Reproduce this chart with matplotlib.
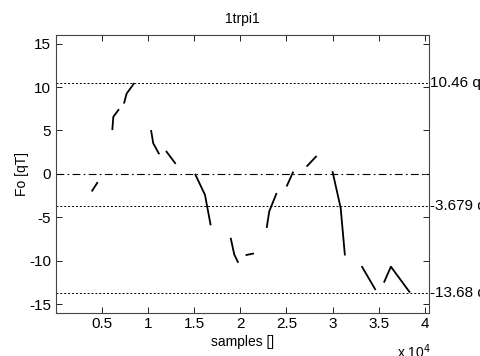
import matplotlib
matplotlib.use("Agg")
import matplotlib.pyplot as plt
import matplotlib.transforms as mtransforms

plt.rcParams['font.family'] = ['Liberation Sans', 'DejaVu Sans']

title = "1trpi1"
xlabel = "samples []"
ylabel = "Fo [qT]"

# data segments (samples, qT)
seg_x = [
    [3920, 4570],
    [6150, 6260, 6870],
    [7410, 7700, 8530],
    [10340, 10580, 11230],
    [11960, 13010],
    [15100, 16180, 16800],
    [18960, 19350, 19780],
    [20580, 21480],
    [22860, 23140, 23940],
    [25020, 25740],
    [27180, 28270],
    [29980, 30870, 31330],
    [33140, 34650],
    [35550, 36310, 38370],
]
seg_y = [
    [-2.03, -0.95],
    [5.05, 6.57, 7.45],
    [8.1, 9.25, 10.46],
    [5.05, 3.52, 2.26],
    [2.64, 1.15],
    [0.0, -2.41, -5.93],
    [-7.37, -9.29, -10.24],
    [-9.37, -9.17],
    [-6.23, -4.32, -2.21],
    [-1.45, 0.26],
    [0.84, 2.06],
    [0.3, -3.93, -9.40],
    [-10.63, -13.38],
    [-12.53, -10.70, -13.68],
]

ref_levels = [10.46, -3.679, -13.68]
ref_labels = ["10.46 qT", "-3.679 qT", "-13.68 qT"]
zero_level = 0.0

xticks = [5000, 10000, 15000, 20000, 25000, 30000, 35000, 40000]
xticklabels = ["0.5", "1", "1.5", "2", "2.5", "3", "3.5", "4"]
yticks = [-15, -10, -5, 0, 5, 10, 15]
yticklabels = ["-15", "-10", "-5", "0", "5", "10", "15"]

fig = plt.figure(figsize=(4.8, 3.56), dpi=100)
ax = fig.add_axes([55.5 / 480, 1 - 312.7 / 356, (428.7 - 55.5) / 480, (312.7 - 35) / 356])

for xs, ys in zip(seg_x, seg_y):
    ax.plot(xs, ys, color='black', lw=1.3, solid_capstyle='butt')

for lv in ref_levels:
    ax.axhline(lv, color='black', lw=0.7, ls=(0, (2, 2)))
ax.axhline(zero_level, color='black', lw=0.8, ls=(0, (7, 3, 1.5, 3)))

ax.set_xlim(0, 40400)
ax.set_ylim(-16, 16)
ax.set_xticks(xticks)
ax.set_xticklabels(xticklabels)
ax.set_yticks(yticks)
ax.set_yticklabels(yticklabels)
ax.tick_params(direction='in', length=4, width=0.6, top=True, right=True,
               labelsize=11, pad=3, colors='black')
for s in ax.spines.values():
    s.set_linewidth(0.8)
    s.set_color('#444444')

trans = mtransforms.blended_transform_factory(ax.transAxes, ax.transData)
for lv, lab in zip(ref_levels, ref_labels):
    ax.text(1.003, lv, lab, transform=trans, ha='left', va='center', fontsize=11, clip_on=False)

ax.set_title(title, fontsize=10, pad=9)
ax.set_xlabel(xlabel, fontsize=10)
ax.set_ylabel(ylabel, fontsize=10)
ax.xaxis.set_label_coords(0.5, (312.7 - 335) / 277.7)
ax.yaxis.set_label_coords((29 - 55.5) / 373.2, 0.5)

fig.text(397 / 480, 1 - 342 / 356, "x 10$^{4}$", ha='left', va='top', fontsize=10)

fig.savefig("out.png", dpi=100)
